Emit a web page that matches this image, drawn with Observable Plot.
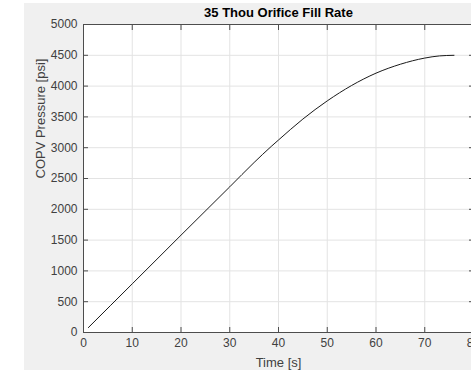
<!DOCTYPE html>
<html>
<head>
<meta charset="utf-8">
<script src="https://cdn.jsdelivr.net/npm/d3@7"></script>
<script src="https://cdn.jsdelivr.net/npm/@observablehq/plot@0.6"></script>
<style>
  html, body { margin: 0; padding: 0; background: #ffffff; overflow: hidden; }
  #wrap { position: relative; width: 471px; height: 370px; }
  #bg { position: absolute; left: 24px; top: 3px; width: 447px; height: 367px; background: #f0f0f0; }
  #chart { position: absolute; left: 0; top: 0; }
  #chart svg { overflow: visible; }
</style>
</head>
<body>
<div id="wrap"><div id="bg"></div><div id="chart"></div></div>
<script>
const titleText = "35 Thou Orifice Fill Rate";
const xLabel = "Time [s]";
const yLabel = "COPV Pressure [psi]";
const xTicks = [0, 10, 20, 30, 40, 50, 60, 70, 80];
const yTicks = [0, 500, 1000, 1500, 2000, 2500, 3000, 3500, 4000, 4500, 5000];
const timeS = [1, 10, 20, 30, 35, 38.5, 40, 45, 50, 55, 60, 65, 70, 73, 76];
const pressurePsi = [80, 790, 1580, 2365, 2760, 3020, 3125, 3465, 3760, 4010, 4210, 4355, 4455, 4490, 4500];

const data = timeS.map((t, i) => ({t, p: pressurePsi[i]}));
const font = "'Liberation Sans', Arial, Helvetica, sans-serif";
const axisColor = "#262626";
const gridColor = "#e3e3e3";
const fmt = d3.format("d");

const chart = Plot.plot({
  width: 471,
  height: 370,
  marginLeft: 83,
  marginRight: -2,
  marginTop: 24,
  marginBottom: 38,
  style: {background: "transparent", fontFamily: font, color: axisColor},
  x: {domain: [0, 80], label: null},
  y: {domain: [0, 5000], label: null},
  marks: [
    Plot.frame({fill: "white", stroke: "none"}),
    Plot.gridX(xTicks, {stroke: gridColor, strokeOpacity: 1}),
    Plot.gridY(yTicks, {stroke: gridColor, strokeOpacity: 1}),
    Plot.line(data, {x: "t", y: "p", stroke: "#1a1a1a", strokeWidth: 1, curve: "monotone-x"}),
    Plot.frame({stroke: "#4d4d4d", strokeWidth: 1}),
    Plot.axisX(xTicks, {anchor: "bottom", tickSize: -5, tickFormat: () => "", stroke: "#4d4d4d"}),
    Plot.axisX(xTicks, {anchor: "top", tickSize: -5, tickFormat: () => "", stroke: "#4d4d4d"}),
    Plot.axisY(yTicks, {anchor: "left", tickSize: -5, tickFormat: () => "", stroke: "#4d4d4d"}),
    Plot.axisY(yTicks, {anchor: "right", tickSize: -5, tickFormat: () => "", stroke: "#4d4d4d"}),
    Plot.axisX(xTicks, {anchor: "bottom", tickSize: 0, tickPadding: 6, fontSize: 12, fill: "#404040", tickFormat: fmt, label: null}),
    Plot.axisY(yTicks, {anchor: "left", tickSize: 0, tickPadding: 6, fontSize: 12, fill: "#404040", tickFormat: fmt, label: null}),
    Plot.text([titleText], {frameAnchor: "top", dy: -8, fontSize: 13, fontWeight: "bold", fill: "#000", lineAnchor: "bottom"}),
    Plot.text([xLabel], {frameAnchor: "bottom", dy: 30, fontSize: 13, fill: "#404040", lineAnchor: "middle"}),
    Plot.text([yLabel], {frameAnchor: "left", dx: -43, rotate: -90, fontSize: 13, fill: "#404040", lineAnchor: "middle"})
  ]
});
document.getElementById("chart").appendChild(chart);
</script>
</body>
</html>
